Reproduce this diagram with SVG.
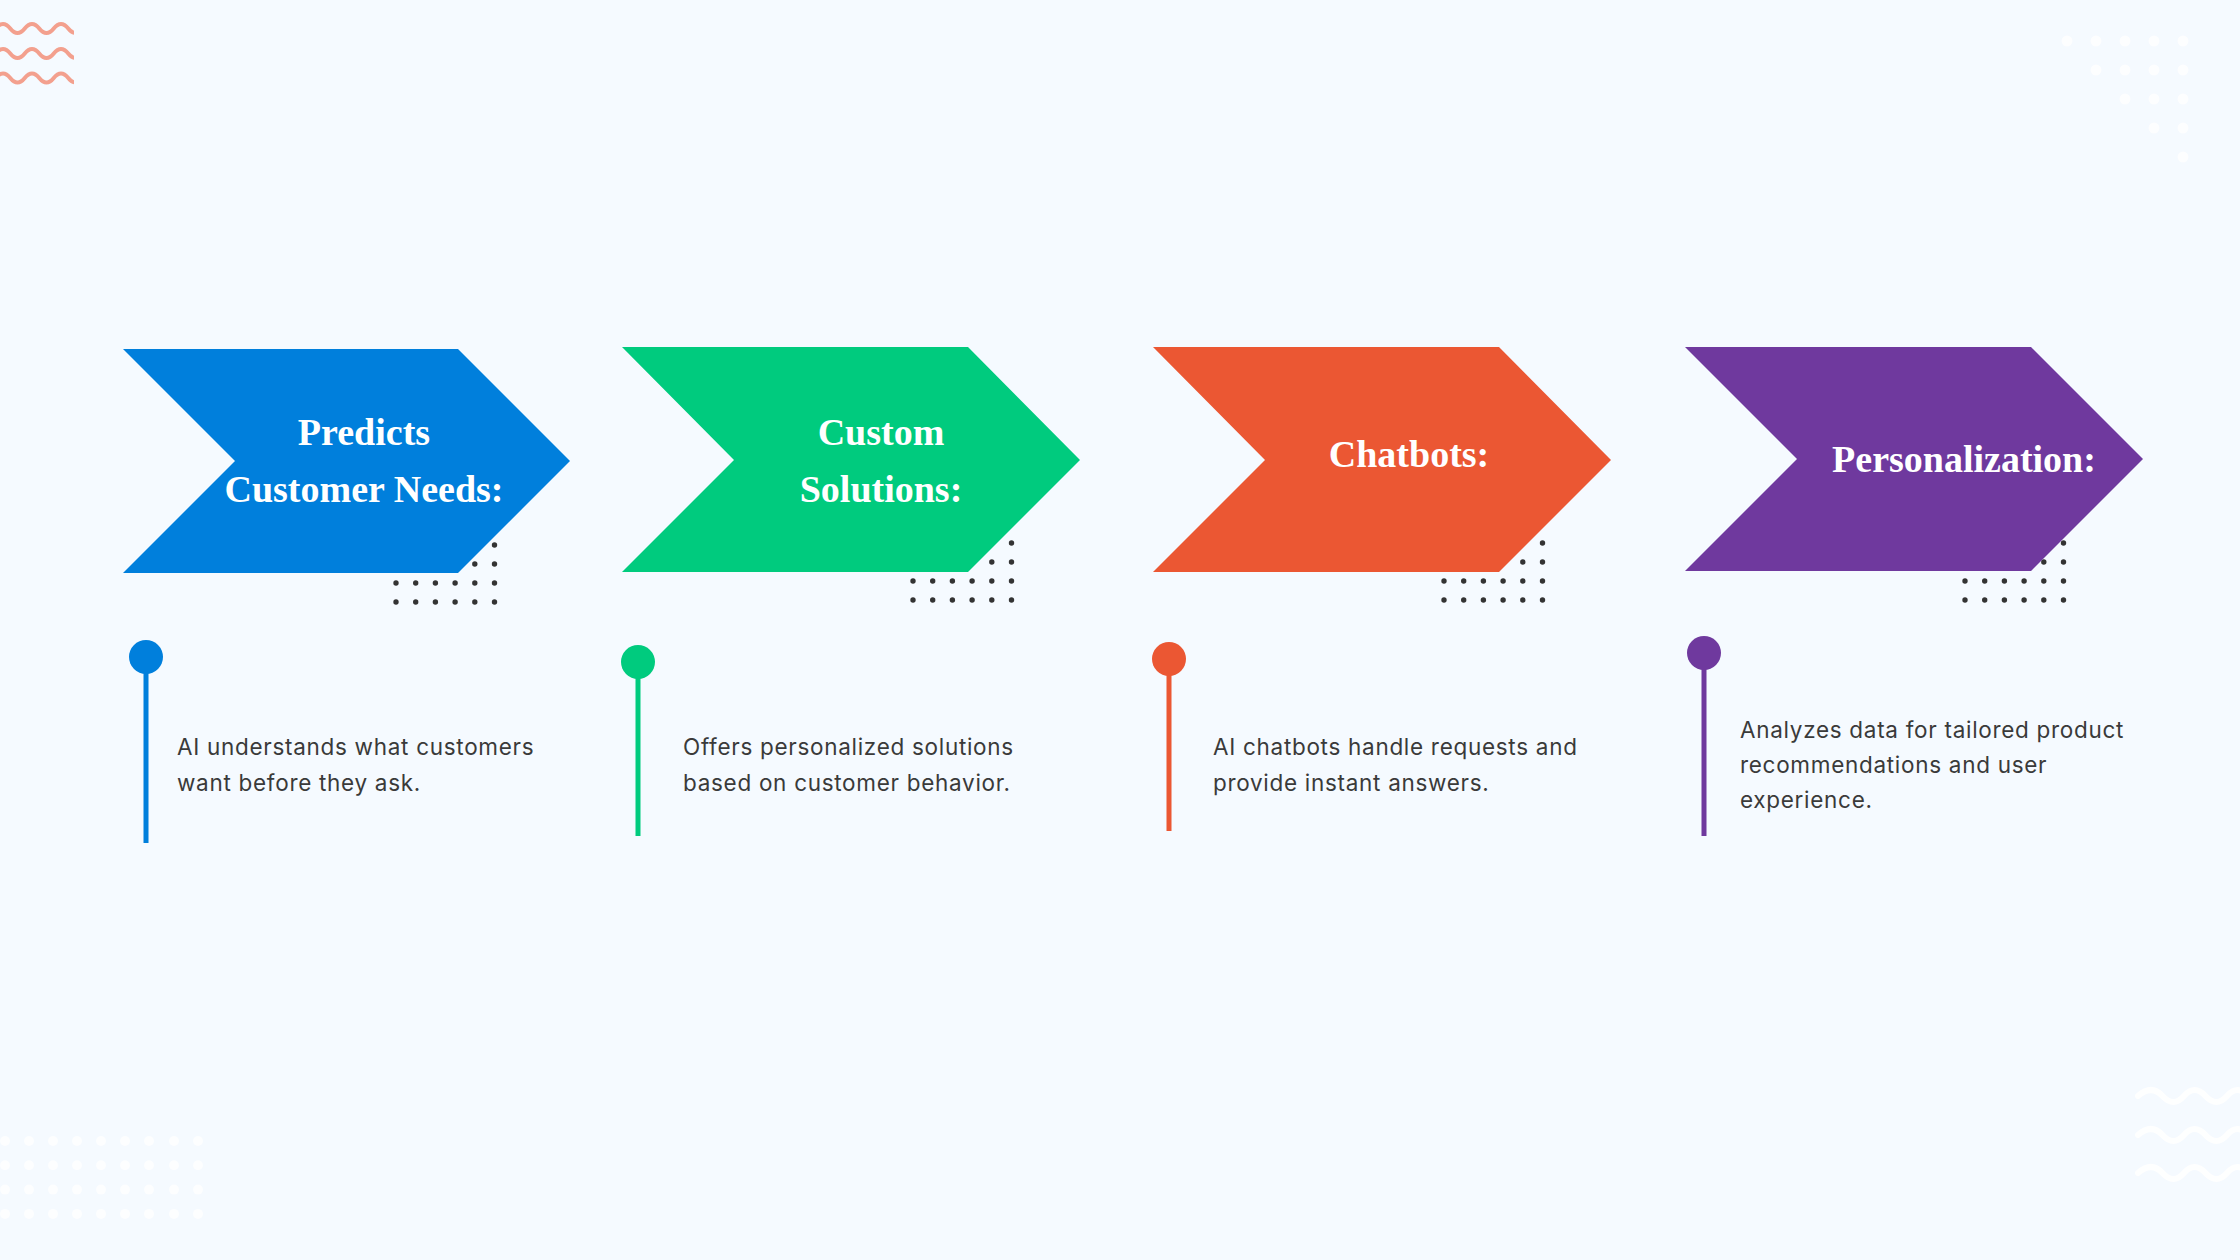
<svg xmlns="http://www.w3.org/2000/svg" width="2240" height="1260" viewBox="0 0 2240 1260">
<defs>
<style>
.title{font-family:"Liberation Serif","Times New Roman",serif;font-weight:bold;font-size:38px;fill:#ffffff;text-anchor:middle}
.desc{font-family:Inter,"Liberation Sans",sans-serif;font-size:22.5px;letter-spacing:0.7px;fill:#3a3a3a}
.dot{fill:#333333}
.fdot{fill:#ffffff;opacity:0.75}
.wave{fill:none;stroke:#F3A08E;stroke-width:4;stroke-linecap:round}
.wwave{fill:none;stroke:#ffffff;stroke-width:6;stroke-linecap:round;opacity:0.9}
</style>
<clipPath id="wclip"><rect x="0" y="0" width="74" height="100"/></clipPath>
<g id="dotrow">
<circle class="dot" cx="0" cy="0" r="2.7"/><circle class="dot" cx="19.7" cy="0" r="2.7"/><circle class="dot" cx="39.4" cy="0" r="2.7"/><circle class="dot" cx="59.1" cy="0" r="2.7"/><circle class="dot" cx="78.8" cy="0" r="2.7"/><circle class="dot" cx="98.5" cy="0" r="2.7"/>
</g>
<g id="dotgrid">
<use href="#dotrow"/>
<use href="#dotrow" y="19"/>
<use href="#dotrow" y="38"/>
<use href="#dotrow" y="57"/>
</g>
</defs>
<rect width="2240" height="1260" fill="#F5FAFF"/>

<g id="decor-top-left" clip-path="url(#wclip)">
<path class="wave" d="M-4.25,28.5 Q3,19.5 10.25,28.5 T24.75,28.5 T39.25,28.5 T53.75,28.5 T68.25,28.5 T82.75,28.5"/>
<path class="wave" d="M-4.25,53.5 Q3,44.5 10.25,53.5 T24.75,53.5 T39.25,53.5 T53.75,53.5 T68.25,53.5 T82.75,53.5"/>
<path class="wave" d="M-4.25,78 Q3,69 10.25,78 T24.75,78 T39.25,78 T53.75,78 T68.25,78 T82.75,78"/>
</g>

<g id="decor-top-right">
<circle class="fdot" cx="2067" cy="41" r="5.5"/><circle class="fdot" cx="2096" cy="41" r="5.5"/><circle class="fdot" cx="2125" cy="41" r="5.5"/><circle class="fdot" cx="2154" cy="41" r="5.5"/><circle class="fdot" cx="2183" cy="41" r="5.5"/>
<circle class="fdot" cx="2096" cy="70" r="5.5"/><circle class="fdot" cx="2125" cy="70" r="5.5"/><circle class="fdot" cx="2154" cy="70" r="5.5"/><circle class="fdot" cx="2183" cy="70" r="5.5"/>
<circle class="fdot" cx="2125" cy="99" r="5.5"/><circle class="fdot" cx="2154" cy="99" r="5.5"/><circle class="fdot" cx="2183" cy="99" r="5.5"/>
<circle class="fdot" cx="2154" cy="128" r="5.5"/><circle class="fdot" cx="2183" cy="128" r="5.5"/>
<circle class="fdot" cx="2183" cy="157" r="5.5"/>
</g>

<g id="decor-bottom-left">
<g>
<circle class="fdot" cx="5" cy="1141" r="5"/><circle class="fdot" cx="29" cy="1141" r="5"/><circle class="fdot" cx="53" cy="1141" r="5"/><circle class="fdot" cx="77" cy="1141" r="5"/><circle class="fdot" cx="101" cy="1141" r="5"/><circle class="fdot" cx="125" cy="1141" r="5"/><circle class="fdot" cx="149" cy="1141" r="5"/><circle class="fdot" cx="174" cy="1141" r="5"/><circle class="fdot" cx="198" cy="1141" r="5"/>
</g>
<g transform="translate(0,24.3)">
<circle class="fdot" cx="5" cy="1141" r="5"/><circle class="fdot" cx="29" cy="1141" r="5"/><circle class="fdot" cx="53" cy="1141" r="5"/><circle class="fdot" cx="77" cy="1141" r="5"/><circle class="fdot" cx="101" cy="1141" r="5"/><circle class="fdot" cx="125" cy="1141" r="5"/><circle class="fdot" cx="149" cy="1141" r="5"/><circle class="fdot" cx="174" cy="1141" r="5"/><circle class="fdot" cx="198" cy="1141" r="5"/>
</g>
<g transform="translate(0,48.6)">
<circle class="fdot" cx="5" cy="1141" r="5"/><circle class="fdot" cx="29" cy="1141" r="5"/><circle class="fdot" cx="53" cy="1141" r="5"/><circle class="fdot" cx="77" cy="1141" r="5"/><circle class="fdot" cx="101" cy="1141" r="5"/><circle class="fdot" cx="125" cy="1141" r="5"/><circle class="fdot" cx="149" cy="1141" r="5"/><circle class="fdot" cx="174" cy="1141" r="5"/><circle class="fdot" cx="198" cy="1141" r="5"/>
</g>
<g transform="translate(0,72.9)">
<circle class="fdot" cx="5" cy="1141" r="5"/><circle class="fdot" cx="29" cy="1141" r="5"/><circle class="fdot" cx="53" cy="1141" r="5"/><circle class="fdot" cx="77" cy="1141" r="5"/><circle class="fdot" cx="101" cy="1141" r="5"/><circle class="fdot" cx="125" cy="1141" r="5"/><circle class="fdot" cx="149" cy="1141" r="5"/><circle class="fdot" cx="174" cy="1141" r="5"/><circle class="fdot" cx="198" cy="1141" r="5"/>
</g>
</g>

<g id="decor-bottom-right">
<path class="wwave" d="M2138,1096 Q2151.5,1084 2162.5,1096 T2184,1096 T2205.5,1096 T2227,1096 T2248.5,1096"/>
<path class="wwave" d="M2138,1135 Q2151.5,1123 2162.5,1135 T2184,1135 T2205.5,1135 T2227,1135 T2248.5,1135"/>
<path class="wwave" d="M2138,1173 Q2151.5,1161 2162.5,1173 T2184,1173 T2205.5,1173 T2227,1173 T2248.5,1173"/>
</g>

<g id="connectors"></g>

<g id="node-predicts">
<use href="#dotgrid" x="396" y="545"/>
<polygon points="123,349 458,349 570,461 458,573 123,573 235,461" fill="#007FDC"/>
<text class="title" x="364" y="445">Predicts</text>
<text class="title" x="364" y="502">Customer Needs:</text>
<line x1="146" y1="657" x2="146" y2="843" stroke="#007FDC" stroke-width="5"/>
<circle cx="146" cy="657" r="17" fill="#007FDC"/>
<text class="desc" x="177" y="755">AI understands what customers</text>
<text class="desc" x="177" y="791">want before they ask.</text>
</g>

<g id="node-custom">
<use href="#dotgrid" x="913" y="543"/>
<polygon points="622,347 968,347 1080,460 968,572 622,572 734,460" fill="#00CB7E"/>
<text class="title" x="881" y="445">Custom</text>
<text class="title" x="881" y="502">Solutions:</text>
<line x1="638" y1="662" x2="638" y2="836" stroke="#00CB7E" stroke-width="5"/>
<circle cx="638" cy="662" r="17" fill="#00CB7E"/>
<text class="desc" x="683" y="755">Offers personalized solutions</text>
<text class="desc" x="683" y="791">based on customer behavior.</text>
</g>

<g id="node-chatbots">
<use href="#dotgrid" x="1444" y="543"/>
<polygon points="1153,347 1499,347 1611,460 1499,572 1153,572 1265,460" fill="#EB5733"/>
<text class="title" x="1409" y="467">Chatbots:</text>
<line x1="1169" y1="659" x2="1169" y2="831" stroke="#EB5733" stroke-width="5"/>
<circle cx="1169" cy="659" r="17" fill="#EB5733"/>
<text class="desc" x="1213" y="755">AI chatbots handle requests and</text>
<text class="desc" x="1213" y="791">provide instant answers.</text>
</g>

<g id="node-personalization">
<use href="#dotgrid" x="1965" y="543"/>
<polygon points="1685,347 2031,347 2143,459 2031,571 1685,571 1797,459" fill="#6F399E"/>
<text class="title" x="1964" y="472">Personalization:</text>
<line x1="1704" y1="653" x2="1704" y2="836" stroke="#6F399E" stroke-width="5"/>
<circle cx="1704" cy="653" r="17" fill="#6F399E"/>
<text class="desc" x="1740" y="738">Analyzes data for tailored product</text>
<text class="desc" x="1740" y="773">recommendations and user</text>
<text class="desc" x="1740" y="808">experience.</text>
</g>
</svg>
